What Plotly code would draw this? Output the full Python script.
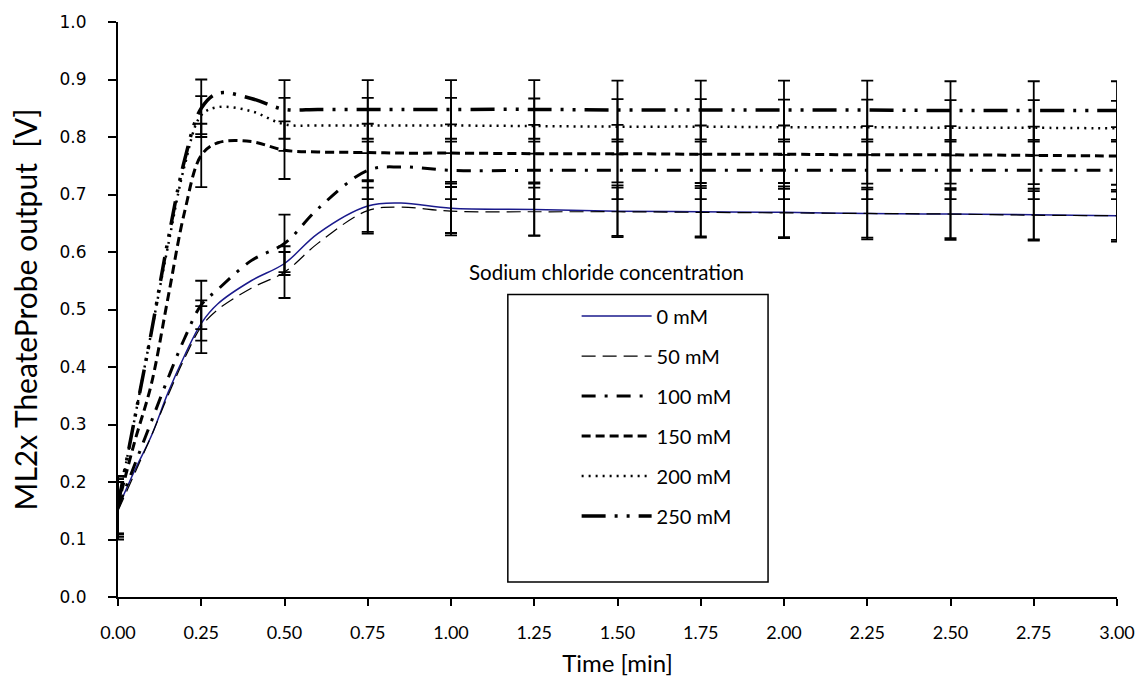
import plotly.graph_objects as go

time_min = [0.0, 0.05, 0.1, 0.15, 0.2, 0.25, 0.3, 0.4, 0.5, 0.6, 0.75, 0.85,
            1.0, 1.25, 1.5, 1.75, 2.0, 2.25, 2.5, 2.75, 3.0]

series_names = ["0 mM", "50 mM", "100 mM", "150 mM", "200 mM", "250 mM"]

v_0mM = [0.155, 0.22, 0.28, 0.355, 0.42, 0.476, 0.51, 0.55, 0.58, 0.632, 0.68, 0.685,
         0.676, 0.674, 0.671, 0.670, 0.669, 0.667, 0.666, 0.665, 0.663]
v_50mM = [0.15, 0.215, 0.28, 0.35, 0.415, 0.47, 0.50, 0.537, 0.565, 0.615, 0.672, 0.678,
          0.671, 0.670, 0.670, 0.669, 0.668, 0.667, 0.666, 0.664, 0.663]
v_100mM = [0.155, 0.23, 0.305, 0.38, 0.45, 0.508, 0.535, 0.585, 0.615, 0.675, 0.742, 0.748,
           0.742, 0.742, 0.742, 0.742, 0.742, 0.742, 0.742, 0.742, 0.742]
v_150mM = [0.16, 0.27, 0.37, 0.52, 0.67, 0.768, 0.79, 0.792, 0.777, 0.774, 0.773, 0.772,
           0.772, 0.771, 0.771, 0.770, 0.770, 0.769, 0.769, 0.768, 0.767]
v_200mM = [0.16, 0.31, 0.46, 0.61, 0.75, 0.838, 0.852, 0.845, 0.822, 0.820, 0.820, 0.820,
           0.820, 0.819, 0.818, 0.818, 0.817, 0.817, 0.816, 0.816, 0.815]
v_250mM = [0.16, 0.31, 0.46, 0.62, 0.76, 0.850, 0.876, 0.867, 0.848, 0.848, 0.848, 0.848,
           0.848, 0.848, 0.847, 0.847, 0.847, 0.847, 0.846, 0.846, 0.846]

# error bars (standard deviation) exist only at the 0.25-min sampling points
N = None
e_0mM = [0.05, N, N, N, N, 0.03, N, N, 0.02, N, 0.045, N,
         0.043, 0.045, 0.045, 0.045, 0.045, 0.045, 0.045, 0.045, 0.045]
e_50mM = [0.05, N, N, N, N, 0.046, N, N, 0.045, N, 0.040, N,
          0.042, 0.042, 0.042, 0.042, 0.042, 0.042, 0.042, 0.042, 0.042]
e_100mM = [0.05, N, N, N, N, 0.042, N, N, 0.050, N, 0.050, N,
           0.050, 0.050, 0.050, 0.050, 0.050, 0.050, 0.050, 0.050, 0.050]
e_150mM = [0.05, N, N, N, N, 0.055, N, N, 0.050, N, 0.050, N,
           0.050, 0.050, 0.050, 0.050, 0.050, 0.050, 0.050, 0.050, 0.050]
e_200mM = [0.05, N, N, N, N, 0.033, N, N, 0.046, N, 0.048, N,
           0.048, 0.048, 0.048, 0.048, 0.048, 0.048, 0.048, 0.048, 0.048]
e_250mM = [0.05, N, N, N, N, 0.050, N, N, 0.051, N, 0.051, N,
           0.051, 0.051, 0.051, 0.051, 0.051, 0.051, 0.051, 0.051, 0.051]

values = [v_0mM, v_50mM, v_100mM, v_150mM, v_200mM, v_250mM]
errors = [e_0mM, e_50mM, e_100mM, e_150mM, e_200mM, e_250mM]

styles = [
    dict(color="#1a1a8c", width=1.5, dash="solid"),
    dict(color="black", width=1.2, dash="14px,7px"),
    dict(color="black", width=3, dash="14px,9px,3px,9px"),
    dict(color="black", width=3, dash="9px,5px"),
    dict(color="black", width=2.5, dash="2px,5px"),
    dict(color="black", width=3.5, dash="24px,9px,3px,9px,3px,9px"),
]

fig = go.Figure()
for name, v, e, st in zip(series_names, values, errors, styles):
    fig.add_trace(go.Scatter(
        x=time_min, y=v, name=name, mode="lines",
        line=dict(color=st["color"], width=st["width"], dash=st["dash"], shape="spline", smoothing=1),
        legendgroup=name,
    ))
    idx = [i for i, ev in enumerate(e) if ev is not None]
    fig.add_trace(go.Scatter(
        x=[time_min[i] for i in idx], y=[v[i] for i in idx], mode="markers",
        marker=dict(size=1, color="rgba(0,0,0,0)"),
        error_y=dict(type="data", array=[e[i] for i in idx], visible=True,
                     color="black", thickness=1.8, width=6),
        showlegend=False, hoverinfo="skip", legendgroup=name,
    ))

ml, mr, mt, mb = 118, 27, 19, 96
pw, ph = 1147 - ml - mr, 693 - mt - mb

def px_x(p):
    return (p - ml) / pw

def px_y(p):
    return (693 - mb - p) / ph

fig.add_shape(type="rect", xref="paper", yref="paper",
              x0=px_x(509), x1=px_x(770), y0=px_y(582), y1=px_y(293),
              line=dict(color="black", width=1.5), fillcolor="rgba(0,0,0,0)")

fig.add_annotation(text="Sodium chloride concentration", xref="paper", yref="paper",
                   x=px_x(608), y=px_y(270), showarrow=False,
                   font=dict(family="Lato, Open Sans, sans-serif", size=20.5, color="black"))

fig.update_layout(
    width=1147, height=693,
    margin=dict(l=ml, r=mr, t=mt, b=mb),
    paper_bgcolor="white", plot_bgcolor="white",
    showlegend=True,
    legend=dict(x=px_x(578), y=px_y(295), xanchor="left", yanchor="top",
                bgcolor="rgba(0,0,0,0)", borderwidth=0,
                font=dict(family="Lato, Open Sans, sans-serif", size=20, color="black"),
                tracegroupgap=11, itemwidth=70),
    xaxis=dict(range=[0, 3.0], dtick=0.25, tick0=0, tickformat=".2f",
               showgrid=False, zeroline=False, showline=True, linecolor="black", linewidth=2,
               ticks="outside", ticklen=7, tickwidth=1.5, tickcolor="black",
               ticklabelstandoff=11,
               tickfont=dict(family="Lato, Open Sans, sans-serif", size=18, color="black"),
               title=dict(text="Time [min]", standoff=14,
                          font=dict(family="Lato, Open Sans, sans-serif", size=24, color="black"))),
    yaxis=dict(range=[0, 1.0], dtick=0.1, tick0=0, tickformat=".1f",
               showgrid=False, zeroline=False, showline=True, linecolor="black", linewidth=2,
               ticks="outside", ticklen=8, tickwidth=1.5, tickcolor="black",
               ticklabelstandoff=18,
               tickfont=dict(family="DejaVu Sans, Verdana, sans-serif", size=17, color="black"),
               title=dict(text="ML2x TheateProbe output  [V]", standoff=13,
                          font=dict(family="Lato, Open Sans, sans-serif", size=30, color="black"))),
)

fig.write_html("out.html")
